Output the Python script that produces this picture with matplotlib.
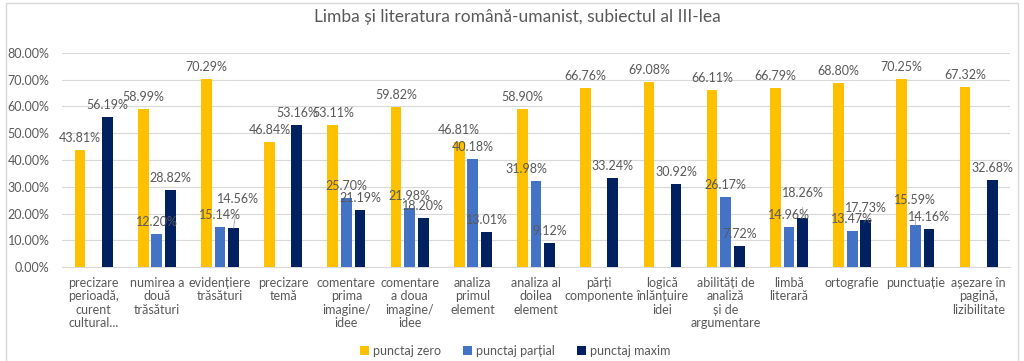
import numpy as np
import matplotlib.pyplot as plt
from matplotlib.patches import Rectangle

plt.rcParams["font.family"] = ["Lato", "DejaVu Sans"]

# ==========================================================
# Data
# ==========================================================

categories = [
    "precizare\nperioadă,\ncurent\ncultural...",
    "numirea a\ndouă\ntrăsături",
    "evidențiere\ntrăsături",
    "precizare\ntemă",
    "comentare\nprima\nimagine/\nidee",
    "comentare\na doua\nimagine/\nidee",
    "analiza\nprimul\nelement",
    "analiza al\ndoilea\nelement",
    "părți\ncomponente",
    "logică\nînlănțuire\nidei",
    "abilități de\nanaliză\nși de\nargumentare",
    "limbă\nliterară",
    "ortografie",
    "punctuație",
    "așezare în\npagină,\nlizibilitate",
]

zero = [43.81, 58.99, 70.29, 46.84, 53.11, 59.82, 46.81, 58.90,
        66.76, 69.08, 66.11, 66.79, 68.80, 70.25, 67.32]
partial = [None, 12.20, 15.14, None, 25.70, 21.98, 40.18, 31.98,
           None, None, 26.17, 14.96, 13.47, 15.59, None]
maxim = [56.19, 28.82, 14.56, 53.16, 21.19, 18.20, 13.01, 9.12,
         33.24, 30.92, 7.72, 18.26, 17.73, 14.16, 32.68]

series_names = ["punctaj zero", "punctaj parțial", "punctaj maxim"]
colors = ["#FFC000", "#4472C4", "#002060"]

# label nudges (series index, category index) -> (dx px, extra dy px)
nudges = {
    (2, 2): (4, 17),
    (1, 7): (-10, 0),
    (2, 11): (0, 13),
    (1, 13): (0, 13),
}

# ==========================================================
# Plot
# ==========================================================

fig = plt.figure(figsize=(10.24, 3.61), dpi=100)
fig.patches.append(Rectangle((0.006, -0.05), 0.988, 1.042, transform=fig.transFigure,
                             fill=False, edgecolor="#D9D9D9", linewidth=1))
ax = fig.add_axes([0.0605, 0.26, 0.926, 0.594])

x = np.arange(len(categories))
width = 0.17
offsets = [-0.215, 0, 0.215]
text_color = "#595959"
fs = 9

for s, values in enumerate([zero, partial, maxim]):
    vals = np.array([np.nan if v is None else v for v in values]) / 100
    ax.bar(x + offsets[s], vals, width, color=colors[s], label=series_names[s], zorder=3)
    for i, v in enumerate(values):
        if v is None:
            continue
        dx, dy = nudges.get((s, i), (0, 0))
        kw = {}
        if dy:
            kw["arrowprops"] = dict(arrowstyle="-", color="#A6A6A6", lw=0.6,
                                    shrinkA=4, shrinkB=0)
        ax.annotate(f"{v:.2f}%", (x[i] + offsets[s], v / 100),
                    xytext=(dx * 0.72, (12 + dy) * 0.72), textcoords="offset points",
                    ha="center", va="center", fontsize=fs, color=text_color,
                    zorder=5, **kw)

ax.set_ylim(0, 0.8)
ax.set_xlim(-0.5, len(categories) - 0.5)
ax.set_yticks(np.arange(0, 0.81, 0.1))
ax.set_yticklabels([f"{t:.2f}%" for t in np.arange(0, 81, 10)])
ax.set_xticks(x)
ax.set_xticklabels(categories, fontsize=fs, color=text_color, linespacing=1.15, va="top")
ax.tick_params(axis="both", length=0, labelcolor=text_color, labelsize=fs)
ax.tick_params(axis="y", pad=9)
ax.tick_params(axis="x", pad=7)
ax.grid(axis="y", color="#D9D9D9", linewidth=0.8, zorder=0)
for side in ["top", "right", "left"]:
    ax.spines[side].set_visible(False)
ax.spines["bottom"].set_color("#D9D9D9")

fig.text(0.505, 0.952, "Limba și literatura română-umanist, subiectul al III-lea",
         ha="center", va="center", fontsize=12.5, color=text_color)

fig.legend(loc="center", bbox_to_anchor=(0.503, 0.028), ncol=3, frameon=False,
           fontsize=fs, labelcolor=text_color, handlelength=0.7, handleheight=0.7,
           handletextpad=0.3, columnspacing=1.8)

plt.savefig("out.png", dpi=100)
